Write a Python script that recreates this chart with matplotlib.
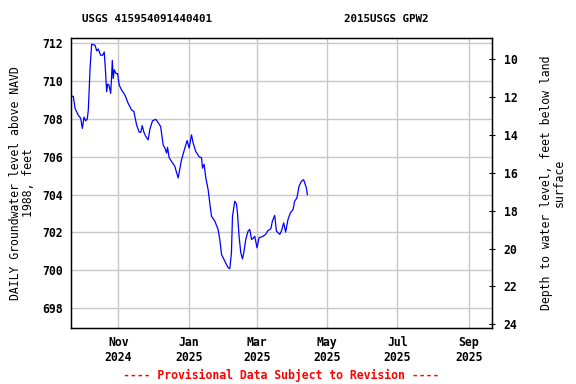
import matplotlib
matplotlib.use("Agg")
import matplotlib.pyplot as plt
import matplotlib.dates as mdates
import numpy as np
import pandas as pd

# data (days after 2024-09-21, elevation ft NAVD88)
start_date = "2024-09-21"
days = [0.6, 2.0, 3.5, 6.3, 8.4, 9.8, 11.3, 12.7, 14.1, 15.0, 15.8, 16.5, 17.9,
        20.8, 22.3, 23.6, 25.7, 27.4, 28.8, 30.0, 30.9, 31.8, 32.9, 34.4, 35.2,
        35.8, 36.6, 37.5, 39.0, 40.4, 41.8, 43.9, 46.8, 49.6, 52.6, 54.5, 56.9,
        59.1, 60.6, 61.7, 63.2, 64.9, 66.9, 68.4, 70.7, 73.6, 75.6, 77.7, 79.9,
        81.4, 82.9, 83.7, 85.1, 87.2, 90.0, 92.9, 95.8, 98.7, 100.7, 102.4,
        104.5, 105.9, 108.2, 111.1, 113.2, 114.0, 115.4, 116.9, 118.9, 120.3,
        121.8, 124.7, 127.5, 129.0, 130.5, 133.3, 136.2, 137.7, 139.1, 140.0,
        142.0, 143.5, 144.3, 145.7, 147.2, 148.7, 149.8, 151.5, 153.5, 155.0,
        156.5, 158.0, 159.3, 161.3, 163.0, 166.5, 168.8, 170.7, 173.2, 174.6,
        176.6, 178.1, 181.0, 182.4, 184.4, 186.1, 188.1, 190.2, 192.5, 193.9,
        195.9, 197.7, 199.7, 201.7, 204.1, 204.9]
level = [709.2, 709.2, 708.56, 708.2, 708.04, 707.5, 708.1, 707.9, 708.0, 708.47,
         709.6, 710.67, 711.95, 711.9, 711.6, 711.7, 711.37, 711.37, 711.54,
         710.44, 709.44, 709.84, 709.8, 709.35, 710.23, 711.1, 710.14, 710.6,
         710.4, 710.4, 709.79, 709.53, 709.26, 708.82, 708.47, 708.4, 707.68,
         707.3, 707.3, 707.65, 707.3, 707.07, 706.9, 707.46, 707.91, 707.98,
         707.8, 707.6, 706.63, 706.46, 706.2, 706.5, 705.95, 705.75, 705.5,
         704.88, 705.84, 706.46, 706.86, 706.46, 707.16, 706.72, 706.28, 706.0,
         705.95, 705.4, 705.6, 704.88, 704.26, 703.56, 702.86, 702.6, 702.16,
         701.63, 700.84, 700.49, 700.14, 700.09, 700.93, 702.86, 703.65, 703.5,
         703.04, 701.8, 700.93, 700.6, 700.93, 701.63, 702.07, 702.16, 701.63,
         701.7, 701.8, 701.19, 701.72, 701.8, 701.9, 702.1, 702.19, 702.6,
         702.9, 702.07, 701.9, 702.07, 702.51, 702.02, 702.68, 703.04, 703.21,
         703.65, 703.83, 704.44, 704.7, 704.79, 704.35, 704.0]
land_surface = 721.15
left_ticks = [698, 700, 702, 704, 706, 708, 710, 712]
right_ticks = [10, 12, 14, 16, 18, 20, 22, 24]
month_ticks = ["2024-11-01", "2025-01-01", "2025-03-01", "2025-05-01",
               "2025-07-01", "2025-09-01"]

dates = pd.Timestamp(start_date) + pd.to_timedelta(days, unit="D")

plt.rcParams['font.family'] = ['DejaVu Sans Mono']
plt.rcParams['font.weight'] = 'bold'

fig = plt.figure(figsize=(5.76, 3.84), dpi=100)
ax = fig.add_axes([71/576, 1 - 328/384, 421/576, 290/384])

ax.plot(dates, level, color="#0000ff", lw=0.9)

ax.set_xlim(pd.Timestamp("2024-09-21"), pd.Timestamp("2025-09-21"))
ax.set_ylim(696.95, 712.28)
ax.set_yticks(left_ticks)
ax.set_xticks(pd.to_datetime(month_ticks))
ax.xaxis.set_major_formatter(mdates.DateFormatter("%b\n%Y"))
ax.grid(True, color="#c8c8c8", lw=1)
ax.tick_params(axis="both", length=0, labelsize=8.3, pad=6)
for s in ax.spines.values():
    s.set_linewidth(1)

ax.set_ylabel("DAILY Groundwater level above NAVD\n1988, feet",
              fontsize=8.3, labelpad=5, linespacing=1.0)

ax2 = ax.twinx()
ax2.set_ylim(land_surface - 696.95, land_surface - 712.28)
ax2.set_yticks(right_ticks)
ax2.tick_params(axis="y", direction="inout", length=5, labelsize=8.3, pad=6)
ax2.set_ylabel("Depth to water level, feet below land\nsurface",
               fontsize=8.3, labelpad=16, linespacing=1.0)

fig.text(147/576, 1 - 19/384, "USGS 415954091440401", ha="center", va="center",
         fontsize=7.8)
fig.text(386/576, 1 - 19/384, "2015USGS GPW2", ha="center", va="center",
         fontsize=7.8)
fig.text(281/576, 1 - 375/384, "---- Provisional Data Subject to Revision ----",
         ha="center", va="center", fontsize=8.3, color="#ff0000")

fig.savefig("out.png", dpi=100)
